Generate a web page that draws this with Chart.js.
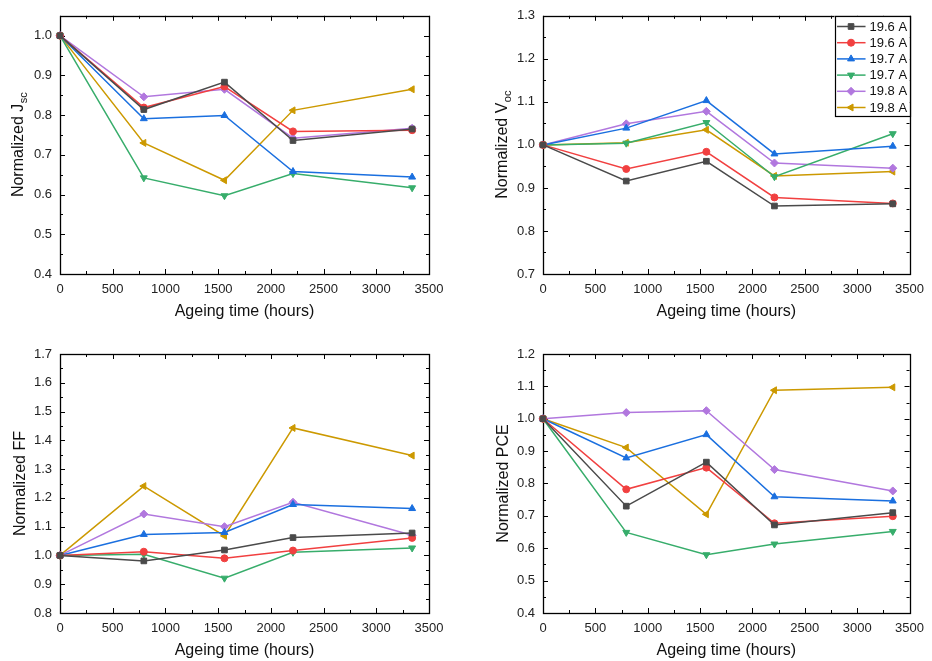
<!DOCTYPE html>
<html>
<head>
<meta charset="utf-8">
<script src="https://cdn.jsdelivr.net/npm/chart.js@4.4.1/dist/chart.umd.min.js"></script>
<style>
  html, body { margin: 0; padding: 0; background: #fff; }
  #wrap { position: relative; width: 932px; height: 661px; }
  canvas { position: absolute; }
</style>
</head>
<body>
<div id="wrap">
  <canvas id="cJsc" width="466" height="330" style="left:0;top:0"></canvas>
  <canvas id="cVoc" width="466" height="330" style="left:466px;top:0"></canvas>
  <canvas id="cFF"  width="466" height="331" style="left:0;top:330px"></canvas>
  <canvas id="cPCE" width="466" height="331" style="left:466px;top:330px"></canvas>
</div>
<script>
// Ageing time of each measurement (hours)
const ageingHours = [0, 795, 1560, 2210, 3340];

// Sample names (two cells per anneal current)
const sampleLabels = ['19.6 A', '19.6 A', '19.7 A', '19.7 A', '19.8 A', '19.8 A'];

// Normalized Jsc, one row per sample
const jscValues = [
  [1.000, 0.814, 0.883, 0.736, 0.765],
  [1.000, 0.819, 0.872, 0.759, 0.762],
  [1.000, 0.791, 0.799, 0.658, 0.644],
  [1.000, 0.642, 0.597, 0.653, 0.617],
  [1.000, 0.846, 0.865, 0.742, 0.767],
  [1.000, 0.730, 0.636, 0.812, 0.865]
];

// Normalized Voc
const vocValues = [
  [1.000, 0.916, 0.962, 0.858, 0.863],
  [1.000, 0.944, 0.984, 0.878, 0.864],
  [1.000, 1.039, 1.103, 0.979, 0.997],
  [1.000, 1.004, 1.052, 0.926, 1.026],
  [1.000, 1.049, 1.078, 0.958, 0.946],
  [1.000, 1.005, 1.035, 0.928, 0.938]
];

// Normalized fill factor
const ffValues = [
  [1.000, 0.981, 1.019, 1.062, 1.078],
  [1.000, 1.013, 0.990, 1.017, 1.061],
  [1.000, 1.073, 1.080, 1.177, 1.163],
  [1.000, 1.004, 0.921, 1.011, 1.026],
  [1.000, 1.144, 1.100, 1.185, 1.070],
  [1.000, 1.241, 1.068, 1.443, 1.347]
];

// Normalized PCE
const pceValues = [
  [1.000, 0.730, 0.866, 0.672, 0.710],
  [1.000, 0.782, 0.849, 0.677, 0.699],
  [1.000, 0.879, 0.951, 0.759, 0.746],
  [1.000, 0.649, 0.580, 0.613, 0.652],
  [1.000, 1.019, 1.025, 0.843, 0.777],
  [1.000, 0.911, 0.705, 1.088, 1.097]
];

// Series appearance
const seriesColors = ['#4a4a4a', '#f14040', '#1a6fdf', '#37ad6b', '#b177de', '#cc9900'];
const markerStyles = ['rect', 'circle', 'triangle', 'triangle', 'rectRot', 'triangle'];
const markerRotations = [0, 0, 0, 180, 0, -90];
const markerRadii = [4, 3.5, 4, 4, 4, 4];

const FONT = '"Liberation Sans", Arial, Helvetica, sans-serif';
Chart.defaults.font.family = FONT;
Chart.defaults.font.size = 13;
Chart.defaults.color = '#222';

function line(ctx, x1, y1, x2, y2) {
  ctx.beginPath();
  ctx.moveTo(x1, y1);
  ctx.lineTo(x2, y2);
  ctx.stroke();
}

// Box frame with inward major/minor ticks on all four sides
const boxFrame = {
  id: 'boxFrame',
  beforeDatasetsDraw(chart) {
    const { ctx, chartArea: a } = chart;
    const xs = chart.scales.x, ys = chart.scales.y;
    ctx.save();
    ctx.strokeStyle = '#000';
    ctx.lineWidth = 1;
    const majLen = 5, minLen = 3;
    const xt = xs.ticks.map(t => t.value);
    const yt = ys.ticks.map(t => t.value);
    xt.forEach((v, i) => {
      const px = Math.round(xs.getPixelForValue(v)) + 0.5;
      line(ctx, px, a.bottom, px, a.bottom - majLen);
      line(ctx, px, a.top, px, a.top + majLen);
      if (i < xt.length - 1) {
        const pm = Math.round(xs.getPixelForValue((v + xt[i + 1]) / 2)) + 0.5;
        line(ctx, pm, a.bottom, pm, a.bottom - minLen);
        line(ctx, pm, a.top, pm, a.top + minLen);
      }
    });
    yt.forEach((v, i) => {
      const py = Math.round(ys.getPixelForValue(v)) + 0.5;
      line(ctx, a.left, py, a.left + majLen, py);
      line(ctx, a.right, py, a.right - majLen, py);
      if (i < yt.length - 1) {
        const pm = Math.round(ys.getPixelForValue((v + yt[i + 1]) / 2)) + 0.5;
        line(ctx, a.left, pm, a.left + minLen, pm);
        line(ctx, a.right, pm, a.right - minLen, pm);
      }
    });
    ctx.lineWidth = 1.3;
    ctx.strokeRect(Math.round(a.left) + 0.5, Math.round(a.top) + 0.5,
                   Math.round(a.right - a.left), Math.round(a.bottom - a.top));
    ctx.restore();
  }
};

// Axis titles, with an optional subscript on the y title
const axisTitles = {
  id: 'axisTitles',
  afterDraw(chart, args, opts) {
    const { ctx, chartArea: a } = chart;
    ctx.save();
    ctx.fillStyle = '#111';
    ctx.textBaseline = 'middle';
    ctx.font = '16px ' + FONT;
    ctx.textAlign = 'center';
    ctx.fillText(opts.x, (a.left + a.right) / 2, a.bottom + 38);

    ctx.translate(a.left - opts.yOffset, (a.top + a.bottom) / 2);
    ctx.rotate(-Math.PI / 2);
    ctx.textAlign = 'left';
    ctx.font = '16px ' + FONT;
    const wMain = ctx.measureText(opts.y).width;
    let wSub = 0;
    if (opts.ySub) {
      ctx.font = '11px ' + FONT;
      wSub = ctx.measureText(opts.ySub).width;
    }
    const x0 = -(wMain + wSub) / 2;
    ctx.font = '16px ' + FONT;
    ctx.fillText(opts.y, x0, 0);
    if (opts.ySub) {
      ctx.font = '11px ' + FONT;
      ctx.fillText(opts.ySub, x0 + wMain + 0.5, 5);
    }
    ctx.restore();
  }
};

// Boxed legend drawn inside the top-right corner of the plot area
const insideLegend = {
  id: 'insideLegend',
  afterDraw(chart, args, opts) {
    if (!opts.show) return;
    const { ctx, chartArea: a } = chart;
    const boxW = 75, boxH = 100;
    const bx = a.right - boxW, by = a.top;
    ctx.save();
    ctx.fillStyle = '#fff';
    ctx.fillRect(bx, by, boxW, boxH);
    ctx.strokeStyle = '#000';
    ctx.lineWidth = 1.2;
    ctx.strokeRect(Math.round(bx) + 0.5, Math.round(by) + 0.5, boxW, boxH);
    ctx.font = '13px ' + FONT;
    ctx.textBaseline = 'middle';
    ctx.textAlign = 'left';
    chart.data.datasets.forEach((ds, i) => {
      const cy = by + 10.7 + i * 16.2;
      ctx.strokeStyle = ds.borderColor;
      ctx.lineWidth = 1.5;
      line(ctx, bx + 2.5, cy, bx + 31, cy);
      ctx.fillStyle = ds.backgroundColor;
      ctx.strokeStyle = ds.borderColor;
      ctx.lineWidth = 1;
      Chart.helpers.drawPoint(ctx, {
        pointStyle: ds.pointStyle, rotation: ds.pointRotation,
        radius: ds.pointRadius, borderWidth: 1
      }, bx + 16.5, cy);
      ctx.fillStyle = '#111';
      ctx.fillText(ds.label, bx + 35, cy + 0.5);
    });
    ctx.restore();
  }
};

function buildDatasets(values) {
  return values.map((row, i) => ({
    label: sampleLabels[i],
    data: row.map((v, j) => ({ x: ageingHours[j], y: v })),
    borderColor: seriesColors[i],
    backgroundColor: seriesColors[i],
    borderWidth: 1.5,
    pointStyle: markerStyles[i],
    pointRotation: markerRotations[i],
    pointRadius: markerRadii[i],
    pointBorderWidth: 1,
    tension: 0,
    clip: false
  }));
}

function makePanel(id, values, yMin, yMax, cfg) {
  new Chart(document.getElementById(id), {
    type: 'line',
    data: { datasets: buildDatasets(values) },
    options: {
      responsive: false,
      animation: false,
      events: [],
      layout: { padding: { top: cfg.top, right: cfg.right, left: 0, bottom: 0 } },
      scales: {
        x: {
          type: 'linear', min: 0, max: 3500,
          grid: { display: false, drawTicks: false },
          border: { display: false },
          ticks: { stepSize: 500, padding: 8, maxRotation: 0, color: '#222',
                   callback: v => String(v) },
          afterFit: s => { s.height = cfg.xh; }
        },
        y: {
          type: 'linear', min: yMin, max: yMax,
          grid: { display: false, drawTicks: false },
          border: { display: false },
          ticks: { stepSize: 0.1, includeBounds: false, padding: 8, color: '#222',
                   callback: v => Number(v).toFixed(1) },
          afterFit: s => { s.width = cfg.yw; }
        }
      },
      plugins: {
        legend: { display: false },
        tooltip: { enabled: false },
        axisTitles: { x: 'Ageing time (hours)', y: cfg.title, ySub: cfg.sub, yOffset: cfg.yOff },
        insideLegend: { show: !!cfg.legend }
      }
    },
    plugins: [boxFrame, axisTitles, insideLegend]
  });
}

makePanel('cJsc', jscValues, 0.4, 1.05, { top: 15, right: 37, xh: 56, yw: 60, title: 'Normalized J', sub: 'sc', yOff: 41 });
makePanel('cVoc', vocValues, 0.7, 1.3, { top: 15, right: 19, xh: 56, yw: 77, title: 'Normalized V', sub: 'oc', yOff: 40, legend: true });
makePanel('cFF', ffValues, 0.8, 1.7, { top: 24, right: 37, xh: 48, yw: 60, title: 'Normalized FF', sub: '', yOff: 39 });
makePanel('cPCE', pceValues, 0.4, 1.2, { top: 24, right: 19, xh: 48, yw: 77, title: 'Normalized PCE', sub: '', yOff: 39 });
</script>
</body>
</html>
